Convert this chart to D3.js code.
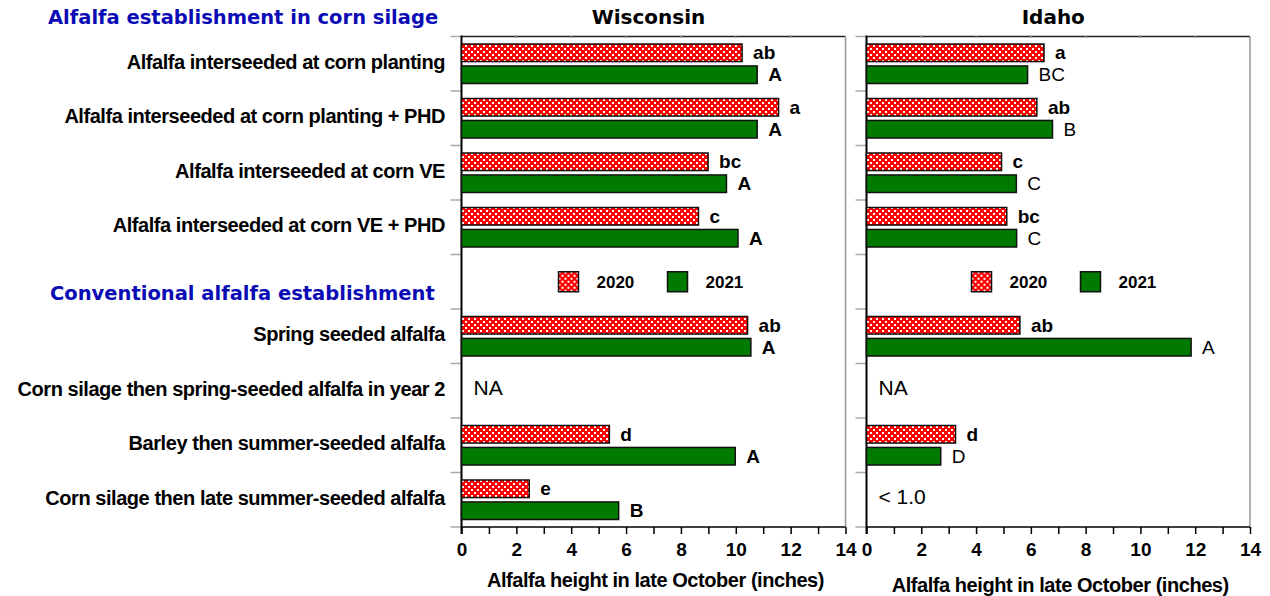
<!DOCTYPE html>
<html>
<head>
<meta charset="utf-8">
<script src="https://cdn.jsdelivr.net/npm/d3@7/dist/d3.min.js"></script>
<style>
  body { margin: 0; background: #fff; }
  text { font-family: "Liberation Sans", Arial, sans-serif; fill: #000; }
</style>
</head>
<body>
<div id="chart"></div>
<script>
// Data.
var categories = [
  "Alfalfa interseeded at corn planting",
  "Alfalfa interseeded at corn planting + PHD",
  "Alfalfa interseeded at corn VE",
  "Alfalfa interseeded at corn VE + PHD",
  "",
  "Spring seeded alfalfa",
  "Corn silage then spring-seeded alfalfa in year 2",
  "Barley then summer-seeded alfalfa",
  "Corn silage then late summer-seeded alfalfa"
];
var groupTitles = ["Alfalfa establishment in corn silage", "Conventional alfalfa establishment"];
var years = ["2020", "2021"];
var xTicks = [0, 2, 4, 6, 8, 10, 12, 14];

var wi2020 = [10.23, 11.56, 8.99, 8.64, null, 10.43, null, 5.39, 2.47];
var wi2021 = [10.78, 10.78, 9.66, 10.08, null, 10.55, null, 9.98, 5.73];
var wiLetters2020 = ["ab", "a", "bc", "c", null, "ab", null, "d", "e"];
var wiLetters2021 = ["A", "A", "A", "A", null, "A", null, "A", "B"];
var wiNotes = [null, null, null, null, null, null, "NA", null, null];

var id2020 = [6.48, 6.22, 4.93, 5.12, null, 5.60, null, 3.25, null];
var id2021 = [5.88, 6.79, 5.47, 5.48, null, 11.85, null, 2.71, null];
var idLetters2020 = ["a", "ab", "c", "bc", null, "ab", null, "d", null];
var idLetters2021 = ["BC", "B", "C", "C", null, "A", null, "D", null];
var idNotes = [null, null, null, null, null, null, "NA", null, "< 1.0"];

var colors = { "2020": "url(#hatch)", "2021": "#007a00" };

// Layout.
var svgWidth = 1270;
var svgHeight = 596;
var plotTop = 36.5;
var plotBottom = 527;

var panels = [
  { name: "Wisconsin", left: 461.5, right: 845.5, titleY: 580,
    values: { "2020": wi2020, "2021": wi2021 },
    letters: { "2020": wiLetters2020, "2021": wiLetters2021 },
    upperWeight: "bold", notes: wiNotes },
  { name: "Idaho", left: 866.5, right: 1250, titleY: 585,
    values: { "2020": id2020, "2021": id2021 },
    letters: { "2020": idLetters2020, "2021": idLetters2021 },
    upperWeight: "normal", notes: idNotes }
];

var svg = d3.select("#chart")
  .append("svg")
  .attr("width", svgWidth)
  .attr("height", svgHeight);

// Red checked fill for 2020 bars.
var pattern = svg.append("defs").append("pattern")
  .attr("id", "hatch")
  .attr("patternUnits", "userSpaceOnUse")
  .attr("width", 6)
  .attr("height", 6);
pattern.append("rect").attr("width", 6).attr("height", 6).attr("fill", "#ff0000");
pattern.append("rect").attr("x", 0).attr("y", 0).attr("width", 2).attr("height", 2)
  .attr("fill", "#fff").attr("shape-rendering", "crispEdges");
pattern.append("rect").attr("x", 3).attr("y", 3).attr("width", 2).attr("height", 2)
  .attr("fill", "#fff").attr("shape-rendering", "crispEdges");

var y = d3.scaleBand()
  .domain(d3.range(categories.length))
  .range([plotTop, plotBottom]);

var yYear = d3.scaleBand()
  .domain(years)
  .range([7.5, y.bandwidth() - 7.5])
  .paddingInner(0.2);

// Category labels on the left.
svg.append("g").selectAll("text")
  .data(categories)
  .enter()
  .append("text")
  .attr("x", 445)
  .attr("y", (d, i) => y(i) + y.bandwidth() / 2 - 2)
  .attr("dy", "0.35em")
  .attr("text-anchor", "end")
  .attr("font-size", "20px")
  .attr("font-weight", "bold")
  .attr("letter-spacing", "-0.45px")
  .text(d => d);

// Group headings.
svg.append("text")
  .attr("x", 48)
  .attr("y", 17)
  .attr("dy", "0.35em")
  .attr("font-size", "19.5px")
  .attr("font-weight", "bold")
  .style("font-family", "'DejaVu Sans', Verdana, sans-serif")
  .style("fill", "#0b0bb5")
  .text(groupTitles[0]);

svg.append("text")
  .attr("x", 50)
  .attr("y", y(4) + y.bandwidth() / 2 + 11)
  .attr("dy", "0.35em")
  .attr("font-size", "19.5px")
  .attr("font-weight", "bold")
  .style("font-family", "'DejaVu Sans', Verdana, sans-serif")
  .style("fill", "#0b0bb5")
  .text(groupTitles[1]);

panels.forEach(function(p) {
  var x = d3.scaleLinear()
    .domain([0, 14])
    .range([p.left, p.right]);

  var g = svg.append("g");

  // Panel title.
  g.append("text")
    .attr("x", (p.left + p.right) / 2 - 5)
    .attr("y", 17)
    .attr("dy", "0.35em")
    .attr("text-anchor", "middle")
    .attr("font-size", "20px")
    .attr("font-weight", "bold")
    .style("font-family", "'DejaVu Sans', Verdana, sans-serif")
    .text(p.name);

  // Frame: top dark, right grey.
  g.append("line")
    .attr("x1", p.left).attr("x2", p.right)
    .attr("y1", plotTop).attr("y2", plotTop)
    .attr("stroke", "#222").attr("stroke-width", 1.5);
  g.append("line")
    .attr("x1", p.right).attr("x2", p.right)
    .attr("y1", plotTop).attr("y2", plotBottom)
    .attr("stroke", "#999").attr("stroke-width", 1.5);

  // Small top ticks.
  g.selectAll(".top-tick")
    .data(xTicks.slice(1, -1))
    .enter()
    .append("line")
    .attr("x1", d => x(d)).attr("x2", d => x(d))
    .attr("y1", plotTop - 1).attr("y2", plotTop + 1.5)
    .attr("stroke", "#999").attr("stroke-width", 1.5);

  // Left band ticks.
  var bandEdges = d3.range(categories.length).map(i => y(i)).concat([plotBottom]);
  g.selectAll(".band-tick")
    .data(bandEdges)
    .enter()
    .append("line")
    .attr("x1", p.left - 11).attr("x2", p.left)
    .attr("y1", d => d).attr("y2", d => d)
    .attr("stroke", "#aaa").attr("stroke-width", 1.5);

  // Bottom axis.
  var bottomAxis = d3.axisBottom(x)
    .tickValues(d3.range(0, 15))
    .tickSize(7)
    .tickPadding(9)
    .tickFormat(d => xTicks.indexOf(d) >= 0 ? d : "");

  var ax = g.append("g")
    .attr("transform", `translate(0, ${plotBottom})`)
    .call(bottomAxis);
  ax.select(".domain").remove();
  ax.selectAll("line").attr("stroke", "#000").attr("stroke-width", 1.5);
  ax.selectAll("text")
    .attr("font-size", "19px")
    .attr("font-weight", "bold")
    .style("font-family", "'Liberation Sans', Arial, sans-serif")
    .style("fill", "#000");

  g.append("line")
    .attr("x1", p.left).attr("x2", p.right)
    .attr("y1", plotBottom).attr("y2", plotBottom)
    .attr("stroke", "#000").attr("stroke-width", 1.5);

  // Left axis line.
  g.append("line")
    .attr("x1", p.left).attr("x2", p.left)
    .attr("y1", plotTop - 1).attr("y2", plotBottom + 7)
    .attr("stroke", "#000").attr("stroke-width", 2);

  // Axis title.
  g.append("text")
    .attr("x", (p.left + p.right) / 2 + 2)
    .attr("y", p.titleY)
    .attr("dy", "0.35em")
    .attr("text-anchor", "middle")
    .attr("font-size", "20px")
    .attr("font-weight", "bold")
    .attr("letter-spacing", "-0.45px")
    .text("Alfalfa height in late October (inches)");

  // Bars and letters.
  years.forEach(function(yr) {
    var rows = p.values[yr].map((v, i) => ({ i: i, v: v, letter: p.letters[yr][i] }))
      .filter(d => d.v !== null);

    g.selectAll(".bar-" + yr)
      .data(rows)
      .enter()
      .append("rect")
      .attr("x", x(0))
      .attr("y", d => y(d.i) + yYear(yr))
      .attr("width", d => x(d.v) - x(0))
      .attr("height", yYear.bandwidth())
      .attr("fill", colors[yr])
      .attr("stroke", "#111")
      .attr("stroke-width", 1.5);

    g.selectAll(".letter-" + yr)
      .data(rows)
      .enter()
      .append("text")
      .attr("x", d => x(d.v) + 11)
      .attr("y", d => y(d.i) + yYear(yr) + yYear.bandwidth() / 2)
      .attr("dy", "0.35em")
      .attr("font-size", "19px")
      .attr("font-weight", yr === "2020" ? "bold" : p.upperWeight)
      .text(d => d.letter);
  });

  // NA and other notes.
  g.selectAll(".note")
    .data(p.notes.map((n, i) => ({ i: i, n: n })).filter(d => d.n))
    .enter()
    .append("text")
    .attr("x", p.left + 12)
    .attr("y", d => y(d.i) + y.bandwidth() / 2 - 3)
    .attr("dy", "0.35em")
    .attr("font-size", "21px")
    .text(d => d.n);

  // Legend.
  var legend = g.append("g")
    .attr("transform", `translate(${p.left + (p.name === "Wisconsin" ? 97 : 105)}, ${y(4) + y.bandwidth() / 2 - 10})`);
  years.forEach(function(yr, k) {
    var lg = legend.append("g").attr("transform", `translate(${k * 109}, 0)`);
    lg.append("rect")
      .attr("width", 20)
      .attr("height", 20)
      .attr("fill", colors[yr])
      .attr("stroke", "#111")
      .attr("stroke-width", 1.5);
    lg.append("text")
      .attr("x", 38)
      .attr("y", 10)
      .attr("dy", "0.35em")
      .attr("font-size", "17px")
      .attr("font-weight", "bold")
      .text(yr);
  });
});
</script>
</body>
</html>
